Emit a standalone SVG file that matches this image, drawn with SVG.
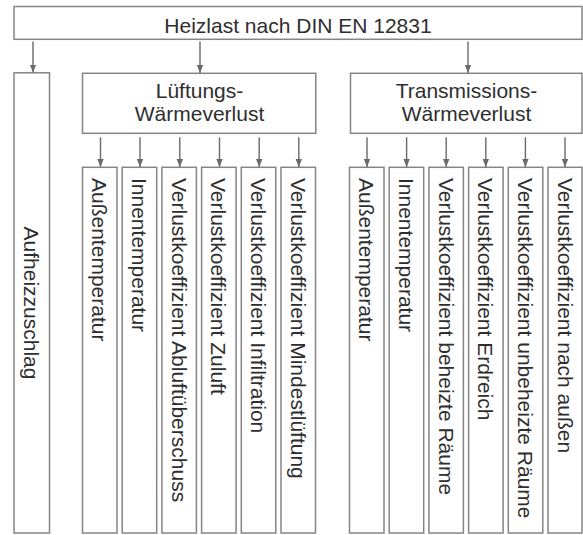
<svg xmlns="http://www.w3.org/2000/svg" width="583" height="535" viewBox="0 0 583 535">
<defs>
<marker id="ah" viewBox="0 0 8 8" refX="8" refY="4" markerWidth="8" markerHeight="8" markerUnits="userSpaceOnUse" orient="auto">
<path d="M0,0.8 L8,4 L0,7.2 Z" fill="#6a6a6a"/>
</marker>
<style>
.box{fill:#fff;stroke:#858585;stroke-width:1.5}
.t{font-family:"Liberation Sans",Arial,sans-serif;font-size:21px;fill:#2e2e2e}
.c{text-anchor:middle}
.conn line{stroke:#6a6a6a;stroke-width:1.4;marker-end:url(#ah)}
</style>
</defs>
<rect width="583" height="535" fill="#fff"/>
<g id="heizlast">
<rect class="box" x="14" y="6.5" width="568" height="32.8"/>
<text class="t c" x="298" y="32.5">Heizlast nach DIN EN 12831</text>
</g>
<g id="aufheizzuschlag">
<rect class="box" x="14" y="72.8" width="35.5" height="460.2"/>
<text class="t c" transform="translate(31.75,303) rotate(90)" x="0" y="7.5">Aufheizzuschlag</text>
</g>
<g id="lueftung">
<rect class="box" x="82.5" y="73.3" width="233.3" height="60"/>
<text class="t c" x="199.5" y="98">Lüftungs-</text>
<text class="t c" x="199.5" y="121">Wärmeverlust</text>
</g>
<g id="transmission">
<rect class="box" x="350.5" y="73.3" width="231.5" height="60"/>
<text class="t c" x="466.5" y="98">Transmissions-</text>
<text class="t c" x="466.5" y="121">Wärmeverlust</text>
</g>
<g id="l1"><rect class="box" x="82.5" y="167.3" width="34.5" height="365.7"/><text class="t" transform="translate(99.75,178) rotate(90)" y="7.5">Außentemperatur</text></g>
<g id="l2"><rect class="box" x="122.2" y="167.3" width="34.5" height="365.7"/><text class="t" transform="translate(139.45,178) rotate(90)" y="7.5">Innentemperatur</text></g>
<g id="l3"><rect class="box" x="161.9" y="167.3" width="34.5" height="365.7"/><text class="t" transform="translate(179.15,178) rotate(90)" y="7.5">Verlustkoeffizient Abluftüberschuss</text></g>
<g id="l4"><rect class="box" x="201.6" y="167.3" width="34.5" height="365.7"/><text class="t" transform="translate(218.85,178) rotate(90)" y="7.5">Verlustkoeffizient Zuluft</text></g>
<g id="l5"><rect class="box" x="241.3" y="167.3" width="34.5" height="365.7"/><text class="t" transform="translate(258.55,178) rotate(90)" y="7.5">Verlustkoeffizient Infiltration</text></g>
<g id="l6"><rect class="box" x="281" y="167.3" width="34.5" height="365.7"/><text class="t" transform="translate(298.25,178) rotate(90)" y="7.5">Verlustkoeffizient Mindestlüftung</text></g>
<g id="t1"><rect class="box" x="349.5" y="167.3" width="34.5" height="365.7"/><text class="t" transform="translate(366.75,178) rotate(90)" y="7.5">Außentemperatur</text></g>
<g id="t2"><rect class="box" x="389.2" y="167.3" width="34.5" height="365.7"/><text class="t" transform="translate(406.45,178) rotate(90)" y="7.5">Innentemperatur</text></g>
<g id="t3"><rect class="box" x="428.9" y="167.3" width="34.5" height="365.7"/><text class="t" transform="translate(446.15,178) rotate(90)" y="7.5">Verlustkoeffizient beheizte Räume</text></g>
<g id="t4"><rect class="box" x="468.6" y="167.3" width="34.5" height="365.7"/><text class="t" transform="translate(485.85,178) rotate(90)" y="7.5">Verlustkoeffizient Erdreich</text></g>
<g id="t5"><rect class="box" x="508.3" y="167.3" width="34.5" height="365.7"/><text class="t" transform="translate(525.55,178) rotate(90)" y="7.5">Verlustkoeffizient unbeheizte Räume</text></g>
<g id="t6"><rect class="box" x="548" y="167.3" width="34" height="365.7"/><text class="t" transform="translate(565,178) rotate(90)" y="7.5">Verlustkoeffizient nach außen</text></g>
<g id="connectors" class="conn">
<line x1="33" y1="41.5" x2="33" y2="72.5"/>
<line x1="200" y1="41.5" x2="200" y2="73"/>
<line x1="468" y1="41.5" x2="468" y2="73"/>
<line x1="100.5" y1="137.3" x2="100.5" y2="167"/>
<line x1="140" y1="137.3" x2="140" y2="167"/>
<line x1="179.8" y1="137.3" x2="179.8" y2="167"/>
<line x1="219.5" y1="137.3" x2="219.5" y2="167"/>
<line x1="259.2" y1="137.3" x2="259.2" y2="167"/>
<line x1="298.8" y1="137.3" x2="298.8" y2="167"/>
<line x1="367" y1="137.3" x2="367" y2="167"/>
<line x1="406.6" y1="137.3" x2="406.6" y2="167"/>
<line x1="446.2" y1="137.3" x2="446.2" y2="167"/>
<line x1="485.8" y1="137.3" x2="485.8" y2="167"/>
<line x1="525.4" y1="137.3" x2="525.4" y2="167"/>
<line x1="565" y1="137.3" x2="565" y2="167"/>
</g>
</svg>
